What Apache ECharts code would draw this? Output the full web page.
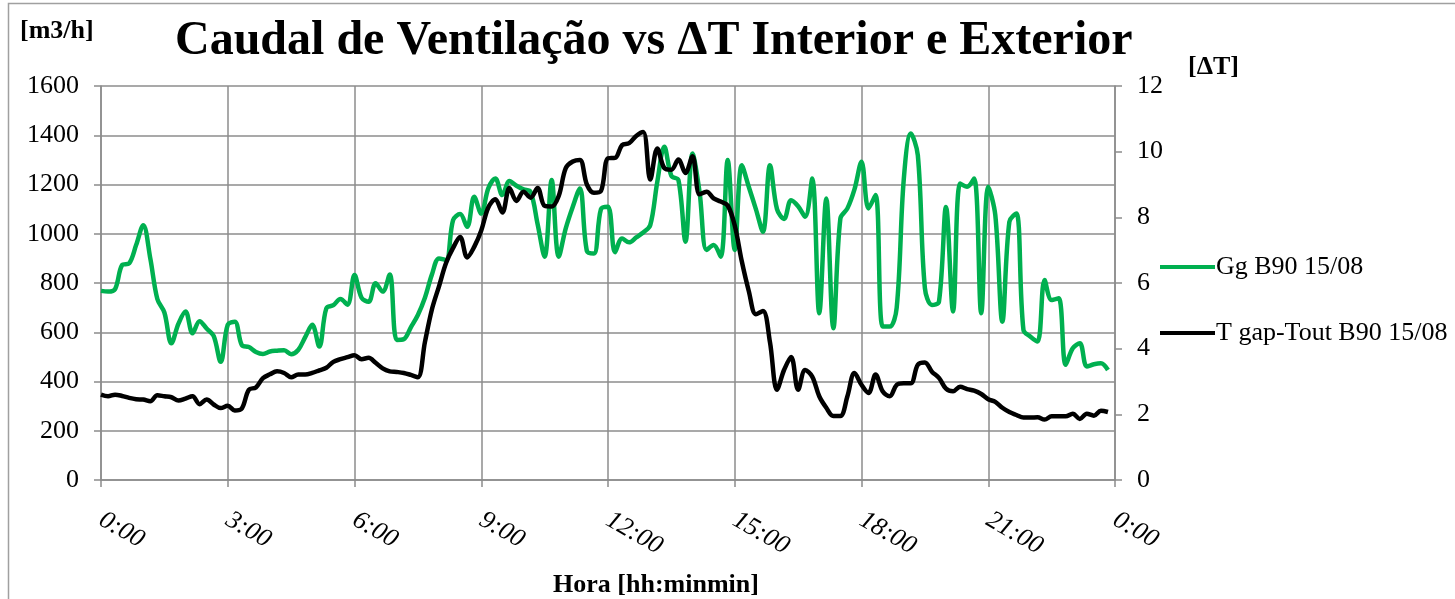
<!DOCTYPE html>
<html>
<head>
<meta charset="utf-8">
<script src="https://cdn.jsdelivr.net/npm/echarts@6/dist/echarts.min.js"></script>
<style>html,body{margin:0;padding:0;background:#fff}#c{width:1455px;height:599px}</style>
</head>
<body>
<div id="c"></div>
<script>
// 10-minute samples from 0:00 to 23:50
const stepMinutes = 10;
const xTickLabels = ['0:00','3:00','6:00','9:00','12:00','15:00','18:00','21:00','0:00'];
const seriesNames = ['Gg B90 15/08', 'T gap-Tout B90 15/08'];
const caudal = [
 768,765,775,873,880,955,1035,900,735,680,555,635,684,596,645,615,585,480,630,643,548,540,520,512,
 522,525,527,511,528,580,630,542,697,710,735,712,832,740,724,799,765,835,569,572,620,670,740,835,
 900,893,1055,1080,1028,1150,1082,1184,1224,1157,1214,1195,1180,1170,1040,907,1218,907,1022,1110,1184,930,920,1100,
 1110,925,981,965,985,1005,1035,1211,1353,1235,1218,968,1326,1170,934,954,907,1299,934,1278,1190,1100,1008,1278,
 1100,1060,1136,1112,1069,1224,677,1143,616,1062,1103,1180,1292,1103,1157,623,623,700,1220,1407,1319,780,711,724,
 1109,684,1204,1191,1224,677,1191,1076,643,1049,1082,609,582,562,812,731,738,468,535,555,461,470,474,447
];
const deltaT = [
 2.60,2.55,2.60,2.56,2.50,2.46,2.45,2.40,2.58,2.55,2.52,2.42,2.48,2.55,2.31,2.45,2.30,2.19,2.26,2.12,2.18,2.75,2.82,3.10,
 3.22,3.31,3.26,3.13,3.21,3.21,3.26,3.34,3.42,3.60,3.68,3.74,3.80,3.68,3.72,3.57,3.40,3.31,3.29,3.26,3.20,3.13,4.20,5.20,
 5.90,6.61,7.07,7.40,6.78,7.10,7.60,8.30,8.55,8.15,8.89,8.50,8.78,8.60,8.89,8.35,8.33,8.65,9.50,9.70,9.75,9.00,8.75,8.80,
 9.80,9.81,10.20,10.26,10.48,10.60,9.15,10.10,9.50,9.45,9.76,9.35,9.86,8.70,8.78,8.58,8.48,8.36,7.75,6.66,5.75,5.05,5.15,4.20,
 2.75,3.35,3.75,2.75,3.35,3.15,2.55,2.20,1.95,1.95,2.55,3.26,2.90,2.65,3.21,2.70,2.55,2.90,2.95,2.95,3.51,3.58,3.30,3.11,
 2.78,2.70,2.84,2.77,2.72,2.62,2.46,2.38,2.20,2.07,1.98,1.90,1.90,1.91,1.84,1.94,1.94,1.94,2.02,1.86,2.02,1.96,2.11,2.07
];

const pairs = arr => arr.map((v, i) => [i * stepMinutes, v]);
const serif = '"Liberation Serif","Times New Roman",serif';
const gridColor = '#8c8c8c';
const chart = echarts.init(document.getElementById('c'), null, {renderer: 'canvas'});
chart.setOption({
  animation: false,
  backgroundColor: '#fff',
  title: {
    text: 'Caudal de Ventilação vs ΔT Interior e Exterior',
    left: 170, top: 13,
    textStyle: {fontFamily: serif, fontWeight: 'bold', fontSize: 48, color: '#000'}
  },
  graphic: [
    {type: 'rect', shape: {x: 8.5, y: 3.5, width: 1500, height: 700}, style: {fill: 'none', stroke: '#a0a0a0', lineWidth: 1.5}, silent: true, z: -1},
    {type: 'text', x: 20, y: 31, style: {text: '[m3/h]', font: 'bold 26px ' + serif, fill: '#000', verticalAlign: 'middle'}},
    {type: 'text', x: 1188, y: 67, style: {text: '[ΔT]', font: 'bold 26px ' + serif, fill: '#000', verticalAlign: 'middle'}},
    {type: 'text', x: 656, y: 585, style: {text: 'Hora [hh:minmin]', font: 'bold 26px ' + serif, fill: '#000', align: 'center', verticalAlign: 'middle'}}
  ],
  legend: {
    orient: 'vertical', left: 1155, top: 249, itemGap: 40,
    itemWidth: 55, itemHeight: 4, icon: 'rect',
    textStyle: {fontFamily: serif, fontSize: 26, color: '#000', padding: [0,0,0,-4]},
    data: seriesNames
  },
  grid: {left: 101, right: 340, top: 86, bottom: 119},
  xAxis: {
    type: 'value', min: 0, max: 1440, interval: 180,
    axisLine: {lineStyle: {color: gridColor, width: 1.5}},
    axisTick: {show: true, length: 7, lineStyle: {color: gridColor, width: 1.5}},
    axisLabel: {
      rotate: -30, margin: 38, fontFamily: serif, fontStyle: 'italic', fontSize: 26, color: '#000',
      formatter: v => xTickLabels[Math.round(v / 180)]
    },
    splitLine: {show: true, lineStyle: {color: gridColor, width: 1.5}}
  },
  yAxis: [
    {
      type: 'value', min: 0, max: 1600, interval: 200,
      axisLine: {show: true, lineStyle: {color: gridColor, width: 1.5}},
      axisTick: {show: true, length: 7, lineStyle: {color: gridColor, width: 1.5}},
      axisLabel: {fontFamily: serif, fontSize: 26, color: '#000', margin: 22, formatter: v => String(v)},
      splitLine: {show: true, lineStyle: {color: gridColor, width: 1.5}}
    },
    {
      type: 'value', min: 0, max: 12, interval: 2, position: 'right',
      axisLine: {show: true, lineStyle: {color: gridColor, width: 1.5}},
      axisTick: {show: true, length: 7, lineStyle: {color: gridColor, width: 1.5}},
      axisLabel: {fontFamily: serif, fontSize: 26, color: '#000', margin: 22},
      splitLine: {show: false}
    }
  ],
  series: [
    {
      name: seriesNames[0], type: 'line', yAxisIndex: 0, data: pairs(caudal),
      smooth: 0.35, showSymbol: false, lineStyle: {color: '#00B050', width: 4.5}, itemStyle: {color: '#00B050'}
    },
    {
      name: seriesNames[1], type: 'line', yAxisIndex: 1, data: pairs(deltaT),
      smooth: 0.35, showSymbol: false, lineStyle: {color: '#000', width: 4.5}, itemStyle: {color: '#000'}
    }
  ]
});
</script>
</body>
</html>
